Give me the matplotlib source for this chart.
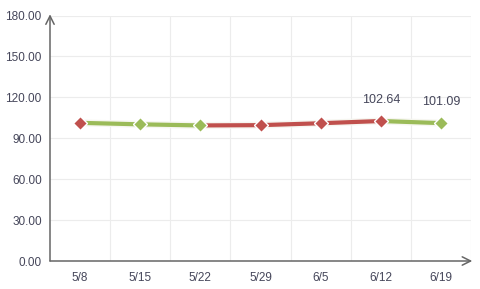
import matplotlib
matplotlib.use("Agg")
import matplotlib.pyplot as plt
import matplotlib.patheffects as pe

categories = ["5/8", "5/15", "5/22", "5/29", "6/5", "6/12", "6/19"]
values = [101.3, 100.2, 99.4, 99.6, 101.0, 102.64, 101.09]
labeled = {5: "102.64", 6: "101.09"}
yticks = [0, 30, 60, 90, 120, 150, 180]

UP = "#c0504d"
DOWN = "#9bbb59"
TXT = "#45465a"

plt.rcParams['font.family'] = ['Liberation Sans', 'DejaVu Sans']

fig = plt.figure(figsize=(4.8, 2.89), dpi=100)
ax = fig.add_axes([50/480, 28/289, 421/480, 245.5/289])

x = list(range(len(categories)))
dirs = [UP] + [UP if values[i] >= values[i-1] else DOWN for i in range(1, len(values))]

halo = [pe.Stroke(linewidth=5, foreground="#f6f6f0"), pe.Normal()]
for i in range(1, len(values)):
    ax.plot([x[i-1], x[i]], [values[i-1], values[i]], color=dirs[i], lw=3,
            solid_capstyle='butt', path_effects=halo, zorder=3)
for i in range(len(values)):
    ax.plot(x[i], values[i], marker='D', ms=7.5, color=dirs[i], mec='white', mew=1, zorder=4)
    if i in labeled:
        ax.annotate(labeled[i], (x[i], values[i]), xytext=(0, 11), textcoords='offset points',
                    ha='center', va='bottom', fontsize=9, color=TXT)

ax.set_xlim(-0.5, len(categories) - 0.5)
ax.set_ylim(0, 180)
ax.set_yticks(yticks)
ax.set_yticklabels([f"{v:.2f}" for v in yticks])
ax.set_xticks(x)
ax.set_xticklabels(categories)
ax.set_xticks([i + 0.5 for i in x], minor=True)
ax.tick_params(axis='both', which='both', length=0, labelsize=8.5, colors=TXT)
ax.tick_params(axis='y', pad=6)
ax.tick_params(axis='x', pad=8)
ax.grid(axis='y', which='major', color='#ececec', lw=0.8)
ax.grid(axis='x', which='minor', color='#ececec', lw=0.8)
ax.set_axisbelow(True)
for s in ax.spines.values():
    s.set_visible(False)

ax.annotate('', xy=(0, 1.005), xytext=(0, 0), xycoords='axes fraction',
            arrowprops=dict(arrowstyle='->,head_length=0.6,head_width=0.3', color='#666', lw=1.1,
                            shrinkA=0, shrinkB=0))
ax.annotate('', xy=(1.003, 0), xytext=(0, 0), xycoords='axes fraction',
            arrowprops=dict(arrowstyle='->,head_length=0.6,head_width=0.3', color='#666', lw=1.1,
                            shrinkA=0, shrinkB=0))

fig.savefig("out.png", dpi=100)
